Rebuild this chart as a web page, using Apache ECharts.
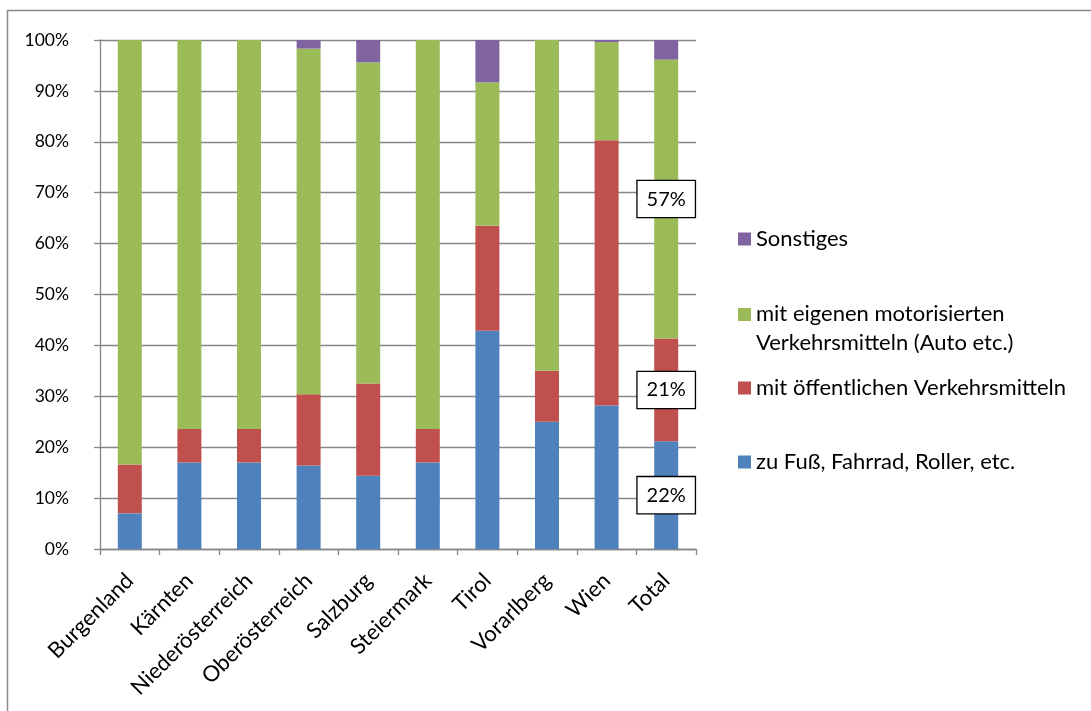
<!DOCTYPE html>
<html>
<head>
<meta charset="utf-8">
<script src="https://cdn.jsdelivr.net/npm/echarts@6/dist/echarts.min.js"></script>
<style>
  html, body { margin: 0; padding: 0; background: #fff; }
  #chart { width: 1091px; height: 711px; }
</style>
</head>
<body>
<div id="chart"></div>
<script>
// Regions and modal split of commuting (raw shares per region)
const regions = ['Burgenland', 'Kärnten', 'Niederösterreich', 'Oberösterreich', 'Salzburg',
                 'Steiermark', 'Tirol', 'Vorarlberg', 'Wien', 'Total'];
const zuFuss      = [7.0, 17.0, 17.0, 16.4, 14.4, 17.0, 42.9, 25.0, 28.2, 22];
const oeffentlich = [9.6, 6.6, 6.6, 14.0, 18.1, 6.6, 20.6, 10.0, 52.1, 21];
const motorisiert = [83.4, 76.4, 76.4, 67.9, 63.1, 76.4, 28.2, 65.0, 19.3, 57];
const sonstiges   = [0, 0, 0, 1.7, 4.4, 0, 8.3, 0, 0.4, 4];
const yTicks = [0, 10, 20, 30, 40, 50, 60, 70, 80, 90, 100];

const seriesNames = ['zu Fuß, Fahrrad, Roller, etc.', 'mit öffentlichen Verkehrsmitteln',
                     'mit eigenen motorisierten Verkehrsmitteln (Auto etc.)', 'Sonstiges'];
const seriesColors = ['#4F81BD', '#C0504D', '#9BBB59', '#8064A2'];
const rawSeries = [zuFuss, oeffentlich, motorisiert, sonstiges];
const labelledIndex = regions.indexOf('Total');

// 100% stacking: each column is scaled to its own total
const totals = regions.map((_, i) => rawSeries.reduce((s, arr) => s + arr[i], 0));

const FONT = 'Lato, "Open Sans", sans-serif';
const TEXT = '#000';
const AXIS_GREY = '#868686';

const series = rawSeries.map((arr, k) => ({
  name: seriesNames[k],
  type: 'bar',
  stack: 'share',
  barWidth: 24,
  itemStyle: { color: seriesColors[k] },
  emphasis: { disabled: true },
  data: arr.map((v, i) => {
    const item = { value: v / totals[i] * 100 };
    if (i === labelledIndex && k < 3) {
      item.label = {
        show: true,
        position: 'inside',
        formatter: v + '%',
        color: TEXT,
        fontFamily: FONT,
        fontSize: 20,
        lineHeight: 21,
        backgroundColor: '#fff',
        borderColor: '#000',
        borderWidth: 1.3,
        padding: [8, 9, 7, 9]
      };
    }
    return item;
  })
}));

// One legend block per entry, stacked top to bottom in reverse series order
const legendTops = [226, 300, 375, 449];
const legendOrder = [3, 2, 1, 0];
const legends = legendOrder.map((k, j) => {
  const twoLine = k === 2;
  return {
    data: [seriesNames[k]],
    left: 738,
    top: legendTops[j],
    orient: 'vertical',
    padding: 0,
    itemWidth: 13,
    itemHeight: twoLine ? 41 : 13,
    itemGap: 0,
    // the two-line entry keeps its swatch beside the first line
    icon: twoLine ? 'path://M0,0h13v13h-13z M13,41' : 'rect',
    selectedMode: false,
    formatter: twoLine ? 'mit eigenen motorisierten\nVerkehrsmitteln (Auto etc.)' : '{name}',
    textStyle: { color: TEXT, fontFamily: FONT, fontSize: 22, lineHeight: twoLine ? 28.5 : 26 }
  };
});

const chart = echarts.init(document.getElementById('chart'), null, { renderer: 'canvas' });
chart.setOption({
  animation: false,
  backgroundColor: '#fff',
  color: seriesColors,
  textStyle: { fontFamily: FONT },
  graphic: [{
    type: 'rect',
    shape: { x: 7.5, y: 10.5, width: 1200, height: 800 },
    style: { fill: 'none', stroke: '#8a8a8a', lineWidth: 1.5 },
    silent: true
  }],
  legend: legends,
  grid: { left: 100, right: 395, top: 40, bottom: 162, containLabel: false },
  xAxis: {
    type: 'category',
    data: regions,
    boundaryGap: true,
    axisLine: { show: true, lineStyle: { color: AXIS_GREY, width: 1.3 } },
    axisTick: { show: true, length: 6, alignWithLabel: false, lineStyle: { color: AXIS_GREY, width: 1.3 } },
    axisLabel: { rotate: 45, margin: 28, color: TEXT, fontFamily: FONT, fontSize: 22, interval: 0 }
  },
  yAxis: {
    type: 'value',
    min: yTicks[0],
    max: yTicks[yTicks.length - 1],
    interval: yTicks[1] - yTicks[0],
    axisLine: { show: true, lineStyle: { color: AXIS_GREY, width: 1.3 } },
    axisTick: { show: true, length: 6, lineStyle: { color: AXIS_GREY, width: 1.3 } },
    splitLine: { show: true, lineStyle: { color: AXIS_GREY, width: 1.3 } },
    axisLabel: { formatter: '{value}%', margin: 31, color: TEXT, fontFamily: FONT, fontSize: 17.5 }
  },
  series: series
});
</script>
</body>
</html>
